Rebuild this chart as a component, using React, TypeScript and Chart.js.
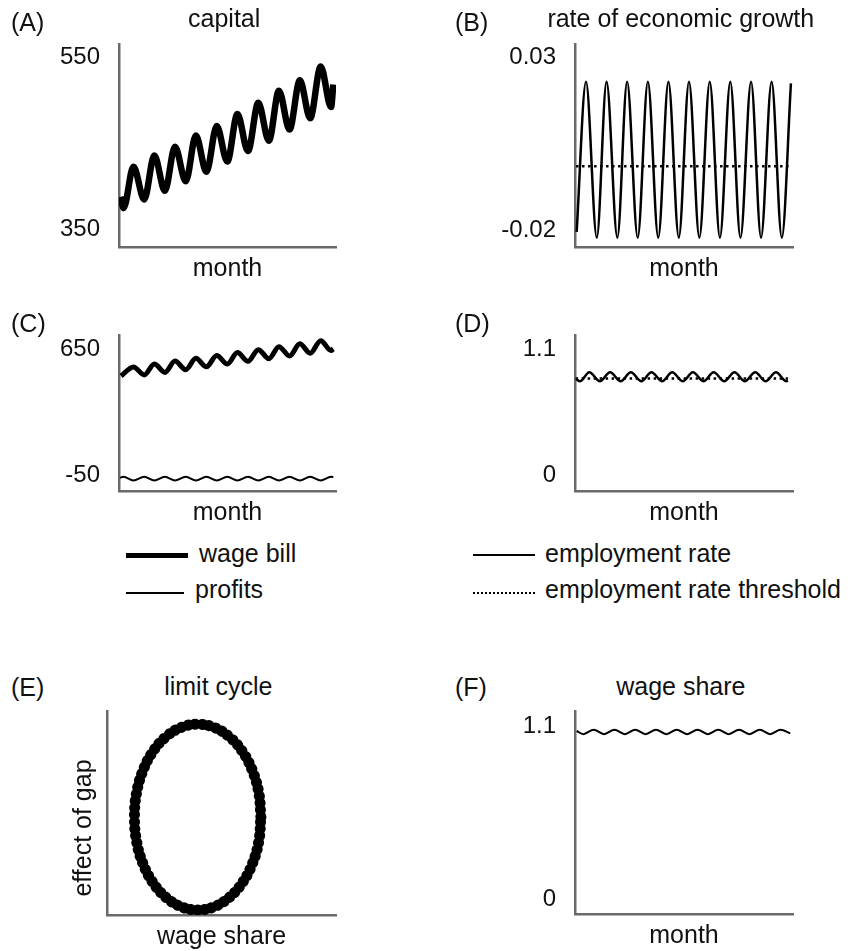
import React, { useEffect, useRef } from "react";
import { Chart, registerables } from "chart.js";

Chart.register(...registerables);

const FONT = '"Liberation Sans", Arial, Helvetica, sans-serif';
const AXIS_COLOR = "#6a6a6a";
const INK = "#111";

// ---------- (A) capital ----------
const capitalMonths = [0.8, 2.2, 7.0, 12.2, 17.1, 22.2, 27.1, 32.3, 37.2, 42.3, 47.3, 52.4, 57.3, 62.4, 67.4, 72.5, 77.4, 82.5, 87.5, 92.5, 97.6, 102.6, 103.7];
const capitalValues = [388, 375, 423, 385, 436, 395, 446, 406, 459, 417, 470, 429, 484, 441, 497, 453, 511, 466, 523, 479, 539, 492, 518];
const capitalTicks = [350, 550];
const capitalTickLabels = ["350", "550"];

// ---------- (B) rate of economic growth ----------
const growthMonths = [0.8, 5.3, 10.5, 15.2, 20.4, 25.1, 30.2, 35.1, 40.1, 45.0, 50.0, 54.9, 59.9, 64.9, 69.8, 74.8, 79.7, 84.8, 89.6, 94.7, 99.6, 104.0];
const growthValues = [-0.0205, 0.023, -0.0222, 0.023, -0.0222, 0.023, -0.0222, 0.023, -0.0222, 0.023, -0.0222, 0.023, -0.0222, 0.023, -0.0222, 0.023, -0.0222, 0.023, -0.0222, 0.023, -0.0222, 0.0225];
const growthThresholdMonths = [0.5, 103.7];
const growthThresholdValues = [-0.0015, -0.0015];
const growthTicks = [-0.02, 0.03];
const growthTickLabels = ["-0.02", "0.03"];

// ---------- (C) wage bill & profits ----------
const wageBillMonths = [1.0, 7.0, 12.2, 17.1, 22.2, 27.1, 32.3, 37.2, 42.3, 47.3, 52.4, 57.3, 62.4, 67.4, 72.5, 77.4, 82.5, 87.5, 92.5, 97.6, 102.6, 103.7];
const wageBillValues = [502, 552, 508, 568, 522, 585, 537, 600, 553, 616, 568, 632, 583, 648, 598, 664, 613, 680, 628, 697, 643, 652];
const profitMonths = [0.5, 2.2, 7.0, 12.2, 17.1, 22.2, 27.1, 32.3, 37.2, 42.3, 47.3, 52.4, 57.3, 62.4, 67.4, 72.5, 77.4, 82.5, 87.5, 92.5, 97.6, 102.6, 103.7];
const profitValues = [-62, -56, -77, -56, -77, -56, -77, -56, -77, -56, -77, -56, -77, -56, -77, -56, -77, -56, -77, -56, -77, -56, -58];
const incomeTicks = [-50, 650];
const incomeTickLabels = ["-50", "650"];

// ---------- (D) employment ----------
const employmentMonths = [0.5, 2.4, 6.9, 12.0, 16.9, 22.0, 26.9, 32.0, 36.8, 42.0, 46.8, 51.9, 56.8, 61.9, 66.8, 71.9, 76.8, 81.8, 86.8, 91.8, 96.8, 101.8, 102.6];
const employmentValues = [0.84, 0.82, 0.9, 0.82, 0.9, 0.82, 0.9, 0.82, 0.9, 0.82, 0.9, 0.82, 0.9, 0.82, 0.9, 0.82, 0.9, 0.82, 0.9, 0.82, 0.9, 0.82, 0.825];
const employmentThresholdMonths = [0.3, 102.6];
const employmentThresholdValues = [0.845, 0.845];
const employmentTicks = [0, 1.1];
const employmentTickLabels = ["0", "1.1"];

// ---------- (E) limit cycle ----------
const cycleWageShare = [0.672, 0.663, 0.635, 0.591, 0.534, 0.467, 0.396, 0.325, 0.258, 0.201, 0.157, 0.129, 0.12, 0.129, 0.157, 0.201, 0.258, 0.325, 0.396, 0.467, 0.534, 0.591, 0.635, 0.663, 0.672];
const cycleGapEffect = [0.48, 0.598, 0.708, 0.802, 0.874, 0.92, 0.935, 0.92, 0.874, 0.802, 0.708, 0.598, 0.48, 0.362, 0.252, 0.158, 0.086, 0.04, 0.025, 0.04, 0.086, 0.158, 0.252, 0.362, 0.48];

// ---------- (F) wage share ----------
const wageShareMonths = [0.8, 4, 9, 14, 19, 24, 29, 34, 39, 44, 49, 54, 59, 64, 69, 74, 79, 84, 89, 94, 99, 103.7];
const wageShareValues = [1.07, 1.05, 1.078, 1.05, 1.078, 1.05, 1.078, 1.05, 1.078, 1.05, 1.078, 1.05, 1.078, 1.05, 1.078, 1.05, 1.078, 1.05, 1.078, 1.05, 1.078, 1.055];
const wageShareTicks = [0, 1.1];
const wageShareTickLabels = ["0", "1.1"];

// ---------- text ----------
const SERIES_WAGE_BILL = "wage bill";
const SERIES_PROFITS = "profits";
const SERIES_EMPLOYMENT = "employment rate";
const SERIES_THRESHOLD = "employment rate threshold";

type Area = { l: number; t: number; r: number; b: number };

const pts = (xs: number[], ys: number[]) => xs.map((x, i) => ({ x, y: ys[i] }));

function zeroPad(s: any) {
  s.paddingTop = 0;
  s.paddingBottom = 0;
  s.paddingLeft = 0;
  s.paddingRight = 0;
}

function yAxis(min: number, max: number, ticks: number[], labels: string[], width: number, show = true) {
  return {
    type: "linear",
    position: "left",
    min,
    max,
    grid: { display: false, drawTicks: false },
    border: { display: true, color: AXIS_COLOR, width: 2.5 },
    ticks: {
      display: show,
      padding: 19,
      color: INK,
      font: { family: FONT, size: 24 },
      callback: (_v: any, i: number) => labels[i],
    },
    afterBuildTicks: (s: any) => {
      s.ticks = ticks.map((v) => ({ value: v }));
    },
    afterFit: (s: any) => {
      s.width = width;
      zeroPad(s);
    },
  };
}

function xAxis(min: number, max: number, title: string) {
  return {
    type: "linear",
    position: "bottom",
    min,
    max,
    grid: { display: false, drawTicks: false },
    border: { display: true, color: AXIS_COLOR, width: 2.5 },
    ticks: { display: false },
    title: {
      display: true,
      text: title,
      color: INK,
      font: { family: FONT, size: 25 },
      padding: { top: 7, bottom: 0 },
    },
    afterFit: (s: any) => {
      s.height = 37;
      zeroPad(s);
    },
  };
}

function series(label: string, xs: number[], ys: number[], width: number, dash: number[] = []) {
  return {
    label,
    data: pts(xs, ys),
    borderColor: "#000",
    backgroundColor: "#000",
    borderWidth: width,
    borderDash: dash,
    pointRadius: 0,
    pointHoverRadius: 0,
    fill: false,
    cubicInterpolationMode: "monotone",
  };
}

function makeConfig(datasets: any[], x: any, y: any) {
  return {
    type: "line",
    data: { datasets },
    options: {
      responsive: false,
      maintainAspectRatio: false,
      animation: false,
      events: [],
      layout: { padding: { top: 10, right: 8, bottom: 0, left: 0 } },
      plugins: { legend: { display: false }, tooltip: { enabled: false }, title: { display: false } },
      scales: { x, y },
    },
  };
}

function Panel({ area, colLeft, build }: { area: Area; colLeft: number; build: (yw: number) => any }) {
  const ref = useRef<HTMLCanvasElement>(null);
  const left = colLeft;
  const top = area.t - 10;
  const width = area.r + 8 - colLeft;
  const height = area.b + 37 - top;
  useEffect(() => {
    const chart = new Chart(ref.current as HTMLCanvasElement, build(area.l - colLeft) as any);
    return () => chart.destroy();
  }, []);
  return (
    <canvas
      ref={ref}
      width={width}
      height={height}
      style={{ position: "absolute", left, top, width, height }}
    />
  );
}

function Label({ x, baseline, text, align = "left", size = 25 }: { x: number; baseline: number; text: string; align?: string; size?: number }) {
  const style: React.CSSProperties = {
    position: "absolute",
    top: baseline - 0.848 * size,
    fontSize: size,
    lineHeight: 1,
    whiteSpace: "nowrap",
    fontFamily: FONT,
    color: INK,
  };
  if (align === "center") {
    style.left = x - 250;
    style.width = 500;
    style.textAlign = "center";
  } else {
    style.left = x;
  }
  return <div style={style}>{text}</div>;
}

function Swatch({ x1, x2, y, width, dotted = false }: { x1: number; x2: number; y: number; width: number; dotted?: boolean }) {
  return (
    <div
      style={{
        position: "absolute",
        left: x1,
        top: y - width / 2,
        width: x2 - x1,
        height: 0,
        borderTop: `${width}px ${dotted ? "dotted" : "solid"} #000`,
      }}
    />
  );
}

const areaA: Area = { l: 119, t: 44, r: 336, b: 247 };
const areaB: Area = { l: 575, t: 44, r: 793, b: 247 };
const areaC: Area = { l: 119, t: 335, r: 336, b: 491 };
const areaD: Area = { l: 575, t: 335, r: 793, b: 491 };
const areaE: Area = { l: 107, t: 711, r: 336, b: 915 };
const areaF: Area = { l: 575, t: 711, r: 793, b: 914 };

export default function App() {
  return (
    <div style={{ position: "absolute", left: 0, top: 0, width: 853, height: 951, background: "#fff", fontFamily: FONT, overflow: "hidden" }}>
      <Panel
        area={areaA}
        colLeft={0}
        build={(yw) =>
          makeConfig(
            [series("capital", capitalMonths, capitalValues, 6.5)],
            xAxis(0, 105, "month"),
            yAxis(330, 565, capitalTicks, capitalTickLabels, yw)
          )
        }
      />
      <Panel
        area={areaB}
        colLeft={430}
        build={(yw) =>
          makeConfig(
            [
              series("rate of economic growth", growthMonths, growthValues, 2.5),
              series("growth threshold", growthThresholdMonths, growthThresholdValues, 2.5, [2.5, 3.5]),
            ],
            xAxis(0, 105, "month"),
            yAxis(-0.0249, 0.0339, growthTicks, growthTickLabels, yw)
          )
        }
      />
      <Panel
        area={areaC}
        colLeft={0}
        build={(yw) =>
          makeConfig(
            [
              series(SERIES_WAGE_BILL, wageBillMonths, wageBillValues, 5),
              series(SERIES_PROFITS, profitMonths, profitValues, 2),
            ],
            xAxis(0, 105, "month"),
            yAxis(-134.7, 729, incomeTicks, incomeTickLabels, yw)
          )
        }
      />
      <Panel
        area={areaD}
        colLeft={430}
        build={(yw) =>
          makeConfig(
            [
              series(SERIES_EMPLOYMENT, employmentMonths, employmentValues, 2.5),
              series(SERIES_THRESHOLD, employmentThresholdMonths, employmentThresholdValues, 2.5, [2.5, 3.5]),
            ],
            xAxis(0, 105, "month"),
            yAxis(-0.137, 1.224, employmentTicks, employmentTickLabels, yw)
          )
        }
      />
      <Panel
        area={areaE}
        colLeft={0}
        build={(yw) => {
          const ds: any = series("limit cycle", cycleWageShare, cycleGapEffect, 11, [0.5, 6.5]);
          ds.cubicInterpolationMode = "default";
          ds.tension = 0.4;
          ds.borderCapStyle = "round";
          return makeConfig([ds], xAxis(0, 1, "wage share"), yAxis(0, 1, [], [], yw, false));
        }}
      />
      <Panel
        area={areaF}
        colLeft={430}
        build={(yw) =>
          makeConfig(
            [series("wage share", wageShareMonths, wageShareValues, 2)],
            xAxis(0, 105, "month"),
            yAxis(-0.093, 1.197, wageShareTicks, wageShareTickLabels, yw)
          )
        }
      />

      {/* panel letters & titles */}
      <Label x={11} baseline={31} text="(A)" />
      <Label x={224.2} baseline={27} text="capital" align="center" />
      <Label x={455} baseline={31} text="(B)" />
      <Label x={680.8} baseline={26.7} text="rate of economic growth" align="center" />
      <Label x={11} baseline={332.5} text="(C)" />
      <Label x={455} baseline={332.5} text="(D)" />
      <Label x={11} baseline={696.5} text="(E)" />
      <Label x={218.3} baseline={695} text="limit cycle" align="center" />
      <Label x={455} baseline={696.5} text="(F)" />
      <Label x={680.8} baseline={695} text="wage share" align="center" />

      {/* rotated y title of (E) */}
      <div
        style={{
          position: "absolute",
          left: 82.3 - 150,
          top: 827.5 - 15,
          width: 300,
          height: 30,
          lineHeight: "30px",
          fontSize: 25,
          textAlign: "center",
          transform: "rotate(-90deg)",
          fontFamily: FONT,
          color: INK,
          whiteSpace: "nowrap",
        }}
      >
        effect of gap
      </div>

      {/* legend (C) */}
      <Swatch x1={126} x2={188.3} y={555.7} width={5} />
      <Label x={199} baseline={561.7} text={SERIES_WAGE_BILL} />
      <Swatch x1={126} x2={184.3} y={593.3} width={2} />
      <Label x={195} baseline={598.3} text={SERIES_PROFITS} />

      {/* legend (D) */}
      <Swatch x1={473.3} x2={535} y={555} width={2} />
      <Label x={545} baseline={561.7} text={SERIES_EMPLOYMENT} />
      <Swatch x1={473.3} x2={535} y={593.3} width={2} dotted />
      <Label x={545} baseline={598.3} text={SERIES_THRESHOLD} />
    </div>
  );
}
